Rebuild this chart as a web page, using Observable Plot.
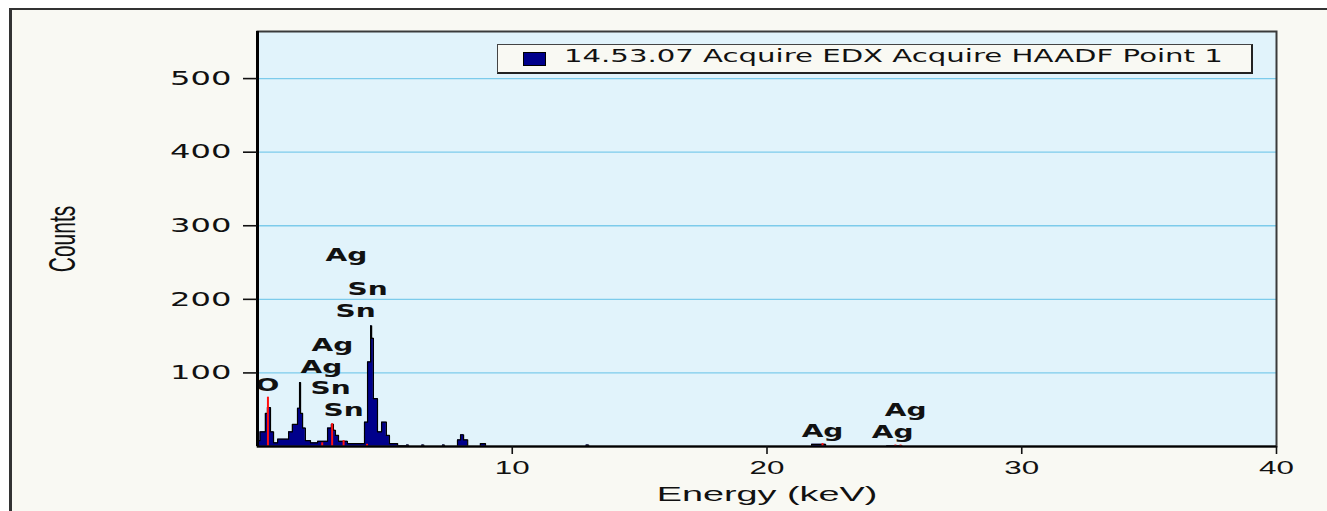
<!DOCTYPE html>
<html>
<head>
<meta charset="utf-8">
<script src="https://cdn.jsdelivr.net/npm/d3@7"></script>
<script src="https://cdn.jsdelivr.net/npm/@observablehq/plot@0.6"></script>
<style>
  html, body { margin: 0; padding: 0; background: #ffffff; }
  #wrap { position: relative; width: 1327px; height: 511px; overflow: hidden; }
  #panel { position: absolute; left: 9px; top: 8px; right: 0; bottom: 0;
           border-left: 3px solid #333; border-top: 2px solid #333; background: #f9f9f3; }
  #chart { position: absolute; left: 0; top: 0; }
  #legend { position: absolute; left: 497px; top: 44px; width: 753px; height: 27px;
            background: #f9f9f3; border: 1px solid #444; border-right: 2px solid #222; border-bottom: 2px solid #222; }
  #legend .sw { position: absolute; left: 25px; top: 7px; width: 21px; height: 12px;
                background: #00008b; border: 1px solid #000; }
  #legend .lab { position: absolute; left: 66px; top: 0; line-height: 28px; font: 18px "DejaVu Sans", sans-serif;
                 color: #111; white-space: nowrap; transform: scaleX(1.62); transform-origin: 0 50%; }
</style>
</head>
<body>
<div id="wrap">
  <div id="panel"></div>
  <div id="chart"></div>
  <div id="legend"><div class="sw"></div><span class="lab"></span></div>
</div>
<script>
// ---- data ----
const seriesName = "14.53.07 Acquire EDX Acquire HAADF Point 1";

// spectrum, step breakpoints: energy (keV) -> counts
const energy = [0, 0.10, 0.31, 0.39, 0.51, 0.63, 0.79, 1.22, 1.37, 1.57, 1.65, 1.69, 1.77, 1.88, 2.08, 2.36,
  2.75, 2.90, 2.98, 3.06, 3.18, 3.53, 4.20, 4.32, 4.44, 4.48, 4.55, 4.71, 4.87, 5.06, 5.18, 5.50,
  5.85, 5.93, 6.45, 6.53, 7.26, 7.34, 7.85, 7.97, 8.09, 8.25, 8.75, 8.95, 12.90, 13.00,
  21.75, 22.30, 24.70, 25.30, 40];
const counts = [8, 20, 45, 53, 20, 5, 10, 20, 30, 52, 87, 45, 25, 8, 5, 7,
  25, 30, 22, 15, 7, 4, 33, 115, 164, 147, 65, 20, 33, 15, 4, 1,
  2, 0, 2, 0, 2, 0, 9, 16, 9, 0, 4, 0, 2, 0,
  3, 0, 1, 0, 0];

// red element marker lines
const markerEnergy = [0.41, 2.54, 2.93, 3.38, 4.30, 22.18, 25.04, 25.24];
const markerCounts = [67, 5, 31, 8, 3, 4, 2, 2];

// element labels
const labelText   = ["O", "Ag", "Ag", "Sn", "Sn", "Sn", "Sn", "Ag", "Ag", "Ag", "Ag"];
const labelEnergy = [0.39, 2.51, 2.94, 2.87, 3.38, 3.85, 4.32, 3.49, 22.18, 25.44, 24.93];
const labelCounts = [83, 107, 137, 79, 49, 183, 213, 259, 20, 49, 19];

// axes
const xTicks = [10, 20, 30, 40];
const yTicks = [100, 200, 300, 400, 500];
const xLabel = "Energy (keV)";
const yLabel = "Counts";

// ---- tables ----
const spectrum = energy.map((e, i) => ({energy: e, counts: counts[i]}));
const markers = markerEnergy.map((e, i) => ({energy: e, counts: markerCounts[i]}));
const labels = labelText.map((t, i) => ({text: t, energy: labelEnergy[i], counts: labelCounts[i]}));

const plot = Plot.plot({
  width: 1327,
  height: 511,
  marginLeft: 257,
  marginRight: 51,
  marginTop: 31,
  marginBottom: 65,
  style: {background: "transparent", overflow: "visible", color: "#111"},
  x: {domain: [0, 40]},
  y: {domain: [0, 564]},
  marks: [
    Plot.frame({fill: "#e1f3fb"}),
    Plot.gridY(yTicks, {stroke: "#7ccbeb", strokeOpacity: 1, strokeWidth: 1.3}),
    Plot.areaY(spectrum, {x: "energy", y: "counts", curve: "step-after", fill: "#00008b"}),
    Plot.lineY(spectrum, {x: "energy", y: "counts", curve: "step-after", stroke: "#000", strokeWidth: 1.2}),
    Plot.ruleX(markers, {x: "energy", y1: 0, y2: "counts", stroke: "#ff1010", strokeWidth: 2}),
    Plot.text(labels, {x: "energy", y: "counts", text: "text", fontFamily: "DejaVu Sans", fontWeight: "bold",
      fontSize: 17, fill: "#111"}),
    Plot.frame({stroke: "#3a3a3a", strokeWidth: 2}),
    Plot.ruleX([0], {stroke: "#000", strokeWidth: 3}),
    Plot.ruleY([0], {stroke: "#000", strokeWidth: 2}),
    Plot.axisY(yTicks, {tickSize: 14, tickPadding: 12, fontSize: 19.5, fontFamily: "DejaVu Sans",
      label: null, strokeWidth: 1.6}),
    Plot.axisX(xTicks, {tickSize: 8, tickPadding: 6, fontSize: 19, fontFamily: "Liberation Sans",
      label: null, strokeWidth: 1.6}),
    Plot.text([yLabel], {frameAnchor: "left", textAnchor: "middle", dx: -195, rotate: -90, fontSize: 21,
      fontFamily: "Liberation Sans", fill: "#111"}),
    Plot.text([xLabel], {frameAnchor: "bottom", textAnchor: "middle", lineAnchor: "middle", dy: 48, fontSize: 21,
      fontFamily: "Liberation Sans", fill: "#111"})
  ]
});

// horizontal stretch of all text, as in the reference rendering
plot.querySelectorAll("text").forEach(t => {
  let tr = t.getAttribute("transform");
  if (!tr) {
    const x = t.getAttribute("x") || 0, y = t.getAttribute("y") || 0;
    tr = `translate(${x},${y})`;
    t.removeAttribute("x");
    t.removeAttribute("y");
  }
  const s = t.textContent === xLabel ? 1.8 : 1.65;
  t.setAttribute("transform", tr + (tr.includes("rotate") ? " scale(1,1.8)" : ` scale(${s},1)`));
});

document.getElementById("chart").appendChild(plot);
document.querySelector("#legend .lab").textContent = seriesName;
</script>
</body>
</html>
